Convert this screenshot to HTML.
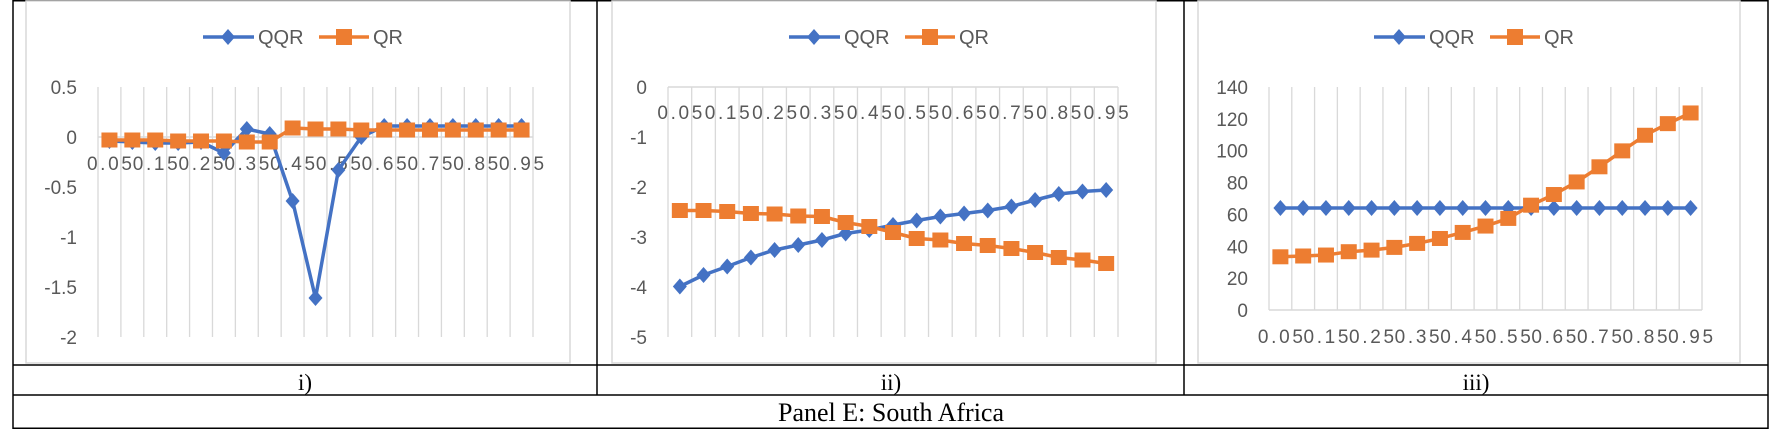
<!DOCTYPE html>
<html><head><meta charset="utf-8"><style>
html,body{margin:0;padding:0;background:#fff}
svg{display:block}
text{font-family:"Liberation Sans",sans-serif}
</style></head><body>
<svg id="s" width="1783" height="429" xmlns="http://www.w3.org/2000/svg">
<g stroke="#000" stroke-width="1.5" fill="none">
<rect x="13" y="0.75" width="1755" height="427.5"/>
<line x1="13" y1="365" x2="1768" y2="365"/>
<line x1="13" y1="395" x2="1768" y2="395"/>
<line x1="597" y1="0" x2="597" y2="395"/>
<line x1="1184" y1="0" x2="1184" y2="395"/>
</g>
<g font-size="23" text-anchor="middle" fill="#000">
<text x="305" y="390" style="font-family:'Liberation Serif',serif">i)</text>
<text x="891" y="390" style="font-family:'Liberation Serif',serif">ii)</text>
<text x="1476" y="390" style="font-family:'Liberation Serif',serif">iii)</text>
<text x="891" y="421" style="font-family:'Liberation Serif',serif;font-size:26px">Panel E: South Africa</text>
</g>
</svg>
<script>
const cats=["0.05","0.1","0.15","0.2","0.25","0.3","0.35","0.4","0.45","0.5","0.55","0.6","0.65","0.7","0.75","0.8","0.85","0.9","0.95"];
const qqr1=[-0.04,-0.05,-0.06,-0.06,-0.05,-0.16,0.08,0.03,-0.64,-1.61,-0.33,0.0,0.11,0.11,0.11,0.11,0.11,0.11,0.11];
const qr1=[-0.03,-0.03,-0.03,-0.04,-0.04,-0.04,-0.05,-0.05,0.09,0.08,0.08,0.07,0.07,0.07,0.07,0.07,0.07,0.07,0.07];
const ticks1=[0.5,0,-0.5,-1,-1.5,-2];
const qqr2=[-3.99,-3.76,-3.59,-3.41,-3.26,-3.16,-3.06,-2.93,-2.86,-2.76,-2.67,-2.59,-2.53,-2.47,-2.39,-2.26,-2.14,-2.09,-2.06];
const qr2=[-2.47,-2.47,-2.49,-2.53,-2.54,-2.58,-2.59,-2.71,-2.79,-2.91,-3.03,-3.06,-3.13,-3.17,-3.23,-3.31,-3.41,-3.46,-3.53];
const ticks2=[0,-1,-2,-3,-4,-5];
const qqr3=[64,64,64,64,64,64,64,64,64,64,64,64,64,64,64,64,64,64,64];
const qr3=[33.4,33.9,34.5,36.6,37.6,39.3,41.8,44.9,48.7,52.7,57.5,65.8,72.5,80.4,89.9,99.9,109.7,117,123.7];
const ticks3=[140,120,100,80,60,40,20,0];

const NS="http://www.w3.org/2000/svg";
const svg=document.getElementById('s');
function mk(tag,attrs,parent){const e=document.createElementNS(NS,tag);for(const k in attrs)e.setAttribute(k,attrs[k]);(parent||svg).appendChild(e);return e;}

function chart(cfg){
  const g=mk('g',{});
  
  
  const box=mk('rect',{x:cfg.bx,y:1,width:cfg.bw,height:362,fill:'#fff',stroke:'#d9d9d9','stroke-width':1.5},g);
  
  
  const x0=cfg.x0,x1=cfg.x1,n=cfg.cats.length,cw=(x1-x0)/n;
  const ymin=cfg.ticks[cfg.ticks.length-1],ymax=cfg.ticks[0];
  const ys=v=>cfg.yb+(cfg.yt-cfg.yb)*(v-ymin)/(ymax-ymin);
  const xs=i=>x0+cw*(i+0.5);
  for(let i=0;i<=n;i++){
    const l=mk('line',{x1:x0+cw*i,x2:x0+cw*i,y1:cfg.yt,y2:cfg.yb,stroke:'#d9d9d9','stroke-width':1.3},g);
    
    
  }
  const ax=mk('line',{x1:x0,x2:x1,y1:ys(0),y2:ys(0),stroke:'#d9d9d9','stroke-width':1.5},g);
  
  
  cfg.ticks.forEach(t=>{
    const tx=mk('text',{x:cfg.lx,y:ys(t)+7,'text-anchor':'end','font-size':19,fill:'#595959'},g);
    tx.textContent=String(t);
    
    
  });
  cfg.cats.forEach((c,i)=>{
    if(i%2) return;
    const tx=mk('text',{x:xs(i),y:ys(0)+cfg.xlOff,'text-anchor':'middle','font-size':19,fill:'#595959',textLength:45,lengthAdjust:'spacing'},g);
    tx.textContent=c;
    
    
  });
  function series(vals,color,shape,nm){
    const sg=mk('g',{},g);
    
    
    mk('polyline',{points:vals.map((v,i)=>xs(i)+','+ys(v)).join(' '),fill:'none',stroke:color,'stroke-width':3.5,'stroke-linejoin':'round'},sg);
    vals.forEach((v,i)=>{
      let m;
      if(shape==='d') m=mk('polygon',{points:`${xs(i)},${ys(v)-8} ${xs(i)+7},${ys(v)} ${xs(i)},${ys(v)+8} ${xs(i)-7},${ys(v)}`,fill:color},sg);
      else m=mk('rect',{x:xs(i)-8,y:ys(v)-7.5,width:16,height:15,fill:color},sg);
      
      
    });
  }
  series(cfg.qqr,'#4472C4','d','qqr-series');
  series(cfg.qr,'#ED7D31','s','qr-series');
  const L=cfg.leg;
  const lg=mk('g',{},g);
  
  
  mk('line',{x1:L,x2:L+51,y1:37,y2:37,stroke:'#4472C4','stroke-width':3.5},lg);
  mk('polygon',{points:`${L+25},29 ${L+32},37 ${L+25},45 ${L+18},37`,fill:'#4472C4'},lg);
  const t1=mk('text',{x:L+55,y:44,'font-size':20,fill:'#595959'},lg);t1.textContent='QQR';
  
  
  mk('line',{x1:L+116,x2:L+166,y1:37,y2:37,stroke:'#ED7D31','stroke-width':3.5},lg);
  mk('rect',{x:L+133,y:29,width:16,height:16,fill:'#ED7D31'},lg);
  const t2=mk('text',{x:L+170,y:44,'font-size':20,fill:'#595959'},lg);t2.textContent='QR';
  
  
}
chart({name:'chart-i',bx:26,bw:544,x0:98,x1:533,yt:87,yb:337,lx:77,ticks:ticks1,cats:cats,qqr:qqr1,qr:qr1,xlOff:33,leg:203});
chart({name:'chart-ii',bx:612,bw:544,x0:668,x1:1118,yt:87,yb:337,lx:647,ticks:ticks2,cats:cats,qqr:qqr2,qr:qr2,xlOff:32,leg:789});
chart({name:'chart-iii',bx:1198,bw:542,x0:1269,x1:1702,yt:87,yb:310,lx:1248,ticks:ticks3,cats:cats,qqr:qqr3,qr:qr3,xlOff:33,leg:1374});
</script>
</body></html>
